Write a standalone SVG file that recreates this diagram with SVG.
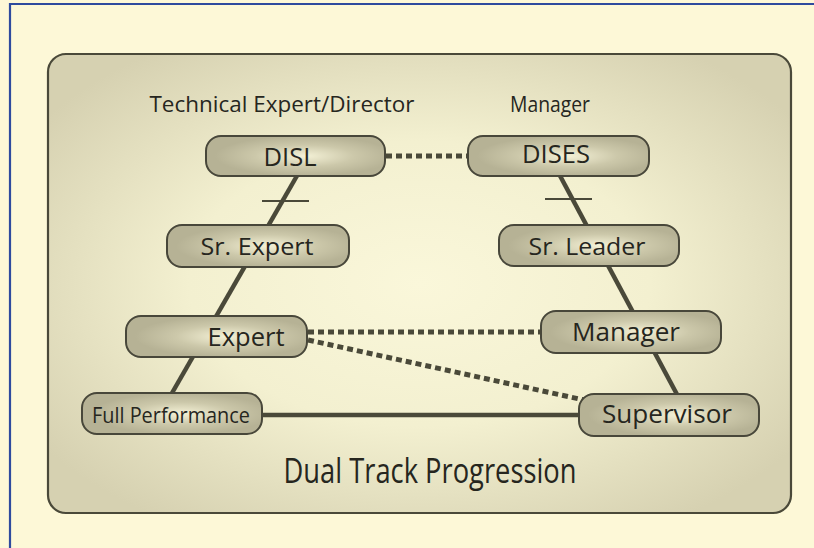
<svg xmlns="http://www.w3.org/2000/svg" width="814" height="548" viewBox="0 0 814 548">
<defs>
<radialGradient id="bg" cx="0.5" cy="0.5" r="0.62">
<stop offset="0" stop-color="#FAF7DA"/>
<stop offset="0.5" stop-color="#F3F0D0"/>
<stop offset="1" stop-color="#D6D1B1"/>
</radialGradient>
<radialGradient id="nf" cx="0.55" cy="0.5" r="0.5" fx="0.55" fy="0.5">
<stop offset="0" stop-color="#F4F1D6"/>
<stop offset="0.55" stop-color="#CCC8AA"/>
<stop offset="1" stop-color="#B6B295"/>
</radialGradient>
<style>
.node{fill:url(#nf);stroke:#48473A;stroke-width:2}
.lbl{font-family:"Open Sans","DejaVu Sans",sans-serif;fill:#26261E;text-anchor:middle}
.solid{stroke:#4A4939;stroke-width:4.5;fill:none}
.dot{stroke:#4A4939;stroke-width:5;fill:none;stroke-dasharray:6 4}
.tick{stroke:#4A4939;stroke-width:1.8}
</style>
</defs>
<rect width="814" height="548" fill="#FDF8D7"/>
<path d="M10 548 V4 H814" fill="none" stroke="#2E4B9E" stroke-width="2.2"/>
<rect x="48" y="54" width="743" height="459" rx="18" fill="url(#bg)" stroke="#4A4939" stroke-width="2.2"/>
<g id="titles">
<text class="lbl" x="282" y="112" font-size="21" textLength="265" lengthAdjust="spacingAndGlyphs">Technical Expert/Director</text>
<text class="lbl" x="550" y="112" font-size="21" textLength="80" lengthAdjust="spacingAndGlyphs">Manager</text>
<text class="lbl" x="430" y="483" font-size="34" textLength="293" lengthAdjust="spacingAndGlyphs">Dual Track Progression</text>
</g>
<g id="connectors">
<line class="solid" x1="298" y1="174" x2="168" y2="400"/>
<line class="solid" x1="558" y1="172" x2="680" y2="400"/>
<line class="tick" x1="262" y1="201" x2="309" y2="201"/>
<line class="tick" x1="545" y1="199" x2="592" y2="199"/>
<line class="solid" x1="260" y1="415" x2="581" y2="415"/>
<line class="dot" x1="386" y1="156" x2="468" y2="156" stroke-dasharray="8 9"/>
<line class="dot" x1="308" y1="332" x2="541" y2="332"/>
<line class="dot" x1="308" y1="340" x2="584" y2="400"/>
</g>
<g id="disl"><rect class="node" x="206" y="136" width="179" height="40" rx="15"/><text class="lbl" x="290" y="166" font-size="25" textLength="53" lengthAdjust="spacingAndGlyphs">DISL</text></g>
<g id="dises"><rect class="node" x="468" y="136" width="181" height="40" rx="15"/><text class="lbl" x="556" y="163" font-size="25" textLength="68" lengthAdjust="spacingAndGlyphs">DISES</text></g>
<g id="sr-expert"><rect class="node" x="167" y="225" width="182" height="42" rx="15"/><text class="lbl" x="257" y="255" font-size="24" textLength="113" lengthAdjust="spacingAndGlyphs">Sr. Expert</text></g>
<g id="sr-leader"><rect class="node" x="499" y="225" width="180" height="41" rx="15"/><text class="lbl" x="587" y="255" font-size="24" textLength="117" lengthAdjust="spacingAndGlyphs">Sr. Leader</text></g>
<g id="expert"><rect class="node" x="126" y="316" width="181" height="41" rx="15"/><text class="lbl" x="246" y="346" font-size="25" textLength="77" lengthAdjust="spacingAndGlyphs">Expert</text></g>
<g id="manager"><rect class="node" x="541" y="311" width="180" height="42" rx="15"/><text class="lbl" x="626" y="341" font-size="25" textLength="108" lengthAdjust="spacingAndGlyphs">Manager</text></g>
<g id="full-performance"><rect class="node" x="82" y="393" width="180" height="41" rx="15"/><text class="lbl" x="171" y="423" font-size="21" textLength="158" lengthAdjust="spacingAndGlyphs">Full Performance</text></g>
<g id="supervisor"><rect class="node" x="579" y="394" width="180" height="42" rx="15"/><text class="lbl" x="667" y="423" font-size="25" textLength="130" lengthAdjust="spacingAndGlyphs">Supervisor</text></g>
</svg>
